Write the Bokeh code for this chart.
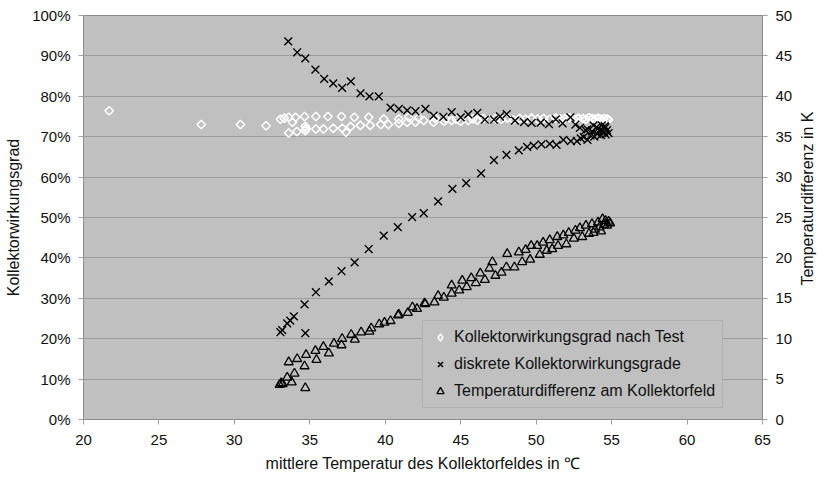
import math
from bokeh.plotting import figure
from bokeh.layouts import row
from bokeh.models import Range1d, LinearAxis, Legend, LegendItem, FixedTicker, PrintfTickFormatter, Label
from bokeh.embed import file_html
from bokeh.resources import INLINE

# ---------------- data ----------------
x_ticks = [20, 25, 30, 35, 40, 45, 50, 55, 60, 65]
y_ticks = [0, 10, 20, 30, 40, 50, 60, 70, 80, 90, 100]
k_ticks = [0, 5, 10, 15, 20, 25, 30, 35, 40, 45, 50]

# Kollektorwirkungsgrad nach Test (%)
test_x = [21.7, 27.8, 30.4, 32.1, 33.05, 33.3, 33.6, 33.6, 33.85, 34.05,
          34.15, 34.65, 34.7, 34.7, 34.75, 35.4, 35.4, 35.9, 36.2, 36.55,
          37.1, 37.15, 37.4, 37.7, 37.95, 38.35, 38.9, 39.0, 39.7, 39.9,
          40.2, 40.9, 40.9, 41.45, 41.55, 42.0, 42.2, 42.55, 43.2, 43.3,
          43.9, 44.0, 44.4, 44.7, 45.0, 45.5, 45.8, 46.1, 46.5, 46.9,
          47.3, 47.7, 48.1, 48.5, 48.9, 49.3, 49.7, 50.1, 50.5, 50.9,
          51.3, 51.6, 51.9, 52.2, 52.5, 52.8, 53.1, 53.3, 53.5, 53.7,
          53.9, 54.1, 54.3, 54.5, 54.7, 54.8]
test_y = [76.4, 73.0, 73.0, 72.7, 74.3, 74.6, 74.8, 70.9, 73.6, 74.8,
          71.3, 75.0, 72.6, 71.5, 72.0, 71.9, 75.0, 71.9, 75.0, 72.1,
          75.0, 72.1, 71.1, 72.5, 74.8, 72.8, 74.8, 72.8, 73.0, 74.4,
          73.0, 74.4, 73.3, 73.6, 74.8, 73.6, 74.7, 74.0, 73.6, 74.6,
          73.8, 74.5, 74.0, 74.3, 73.8, 74.0, 74.4, 74.1, 74.5, 74.2,
          74.5, 74.3, 74.6, 74.2, 74.5, 74.3, 74.6, 74.4, 74.5, 74.3,
          74.6, 74.4, 74.5, 74.7, 74.4, 74.6, 74.5, 74.3, 74.7, 74.5,
          74.4, 74.6, 74.3, 74.5, 74.4, 74.2]

# diskrete Kollektorwirkungsgrade (%)
disk_x = [33.57, 34.16, 34.7, 35.37, 35.95, 36.55, 37.14, 37.72, 38.36, 38.95,
          39.57, 40.35, 40.9, 41.45, 42.0, 42.66, 43.2, 43.85, 44.4, 45.0,
          45.5, 46.1, 46.6, 47.2, 47.6, 48.05, 48.6, 49.2, 49.7, 50.3,
          50.85, 51.3, 51.75, 52.27, 52.6, 52.9, 53.27, 53.8, 54.1, 54.4,
          54.6,
          33.05, 33.17, 33.5, 33.7, 33.94, 34.7, 34.65, 35.4, 36.26, 37.1,
          37.97, 38.9, 39.9, 40.83, 41.78, 42.55, 43.5, 44.45, 45.36, 46.35,
          47.2, 48.03, 48.85, 49.4, 49.84, 50.35, 50.9, 51.35, 51.8, 52.3,
          52.7, 52.95, 53.15, 53.4, 53.6, 53.85, 54.04, 54.2, 54.3, 54.5,
          54.6, 54.7, 54.55, 54.35, 54.8, 54.0, 53.7, 53.4]
disk_y = [93.6, 90.9, 89.4, 86.6, 84.3, 83.2, 82.1, 83.7, 80.7, 80.0,
          80.0, 77.2, 76.9, 76.5, 76.3, 76.9, 75.2, 74.9, 76.1, 74.8,
          75.5, 75.9, 74.2, 74.2, 75.0, 75.6, 74.0, 73.6, 73.4, 73.5,
          73.1, 74.3, 73.3, 74.8, 73.0, 72.2, 71.6, 72.8, 72.0, 71.4,
          72.3,
          21.6, 22.1, 23.8, 24.5, 25.5, 21.4, 28.5, 31.5, 34.2, 36.7,
          38.9, 42.2, 45.5, 47.6, 50.1, 51.1, 54.0, 57.1, 58.5, 60.9,
          64.2, 65.5, 66.6, 67.5, 67.8, 68.1, 68.2, 68.0, 69.2, 68.9,
          68.9, 69.6, 69.9, 69.2, 70.3, 70.0, 70.7, 71.5, 70.4, 71.1,
          70.6, 71.6, 72.6, 72.8, 70.9, 72.3, 71.3, 71.8]

# Temperaturdifferenz am Kollektorfeld (K)
dt_x = [33.0, 33.1, 33.2, 33.5, 33.8, 33.98, 34.7, 34.65, 33.6, 34.16,
        34.75, 35.44, 35.37, 35.9, 36.26, 36.6, 37.1, 37.14, 37.74, 37.98,
        38.4, 38.95, 39.07, 39.6, 39.95, 40.35, 40.85, 40.9, 41.5, 41.8,
        42.1, 42.6, 42.65, 43.26, 43.5, 43.88, 44.4, 44.4, 44.9, 45.1,
        45.4, 45.7, 46.0, 46.3, 46.6, 46.9, 47.1, 47.3, 47.7, 48.03,
        48.08, 48.56, 48.85, 49.07, 49.3, 49.6, 49.67, 50.07, 50.24, 50.46,
        50.7, 50.9, 51.06, 51.4, 51.45, 51.8, 52.0, 52.16, 52.5, 52.6,
        52.9, 53.05, 53.3, 53.5, 53.7, 53.9, 54.1, 54.2, 54.4, 54.5,
        54.6, 54.7, 54.8, 54.9, 54.3, 53.8]
dt_y = [4.3, 4.5, 4.4, 5.2, 4.6, 5.7, 3.9, 6.6, 7.1, 7.5,
        8.0, 7.4, 8.5, 9.0, 8.2, 9.4, 9.2, 10.0, 10.5, 9.9,
        10.8, 10.9, 11.3, 11.8, 12.0, 12.2, 12.9, 13.0, 13.2, 13.9,
        13.7, 14.4, 14.3, 14.5, 15.3, 15.1, 16.6, 15.6, 16.0, 17.2,
        16.4, 17.5, 16.9, 18.1, 17.3, 18.7, 19.5, 17.8, 18.2, 18.85,
        20.5, 18.85, 20.7, 19.5, 21.0, 19.8, 21.5, 21.5, 20.4, 21.9,
        20.9, 22.2, 21.1, 22.6, 21.5, 22.8, 21.7, 23.1, 22.4, 23.4,
        23.7, 22.6, 24.0, 23.0, 24.2, 23.5, 24.4, 23.8, 24.8, 24.1,
        24.6, 24.0, 24.5, 24.3, 23.3, 23.1]

labels = ["Kollektorwirkungsgrad nach Test",
          "diskrete Kollektorwirkungsgrade",
          "Temperaturdifferenz am Kollektorfeld"]
x_title = "mittlere Temperatur des Kollektorfeldes in ℃"
y_title = "Kollektorwirkungsgrad"
k_title = "Temperaturdifferenz in K"

FONT = "Liberation Sans"
W_TITLE = 22   # narrow strip holding the right axis title

p = figure(width=818 - W_TITLE, height=479, output_backend="svg", toolbar_location=None,
           x_range=Range1d(20, 65), y_range=Range1d(0, 100),
           min_border_left=83, min_border_right=818 - W_TITLE - 762, min_border_top=15,
           min_border_bottom=60,
           background_fill_color="#c0c0c0", border_fill_color="white")
p.extra_y_ranges = {"k": Range1d(0, 50)}

p.outline_line_color = "#8c8c8c"
p.xgrid.visible = False
p.ygrid.grid_line_color = "#9c9c9c"
p.ygrid.grid_line_width = 1
p.ygrid.ticker = FixedTicker(ticks=y_ticks)

p.xaxis.ticker = FixedTicker(ticks=x_ticks)
p.yaxis.ticker = FixedTicker(ticks=y_ticks)
p.yaxis.formatter = PrintfTickFormatter(format="%d%%")
p.xaxis.axis_label = x_title
p.yaxis.axis_label = y_title

right = LinearAxis(y_range_name="k", ticker=FixedTicker(ticks=k_ticks))
p.add_layout(right, "right")

for ax in p.xaxis + p.yaxis + [right]:
    ax.axis_line_color = "#8c8c8c"
    ax.major_tick_line_color = "#a0a0a0"
    ax.major_tick_out = 5
    ax.major_tick_in = 0
    ax.minor_tick_line_color = None
    ax.major_label_text_font = FONT
    ax.major_label_text_font_size = "15px"
    ax.major_label_text_color = "#111111"
    ax.major_label_standoff = 8
    ax.axis_label_text_font = FONT
    ax.axis_label_text_font_size = "16px"
    ax.axis_label_text_font_style = "normal"
    ax.axis_label_text_color = "#111111"
    ax.axis_label_standoff = 7
p.xaxis.major_label_standoff = 10

r_test = p.scatter(test_x, test_y, marker="square", size=6, angle=math.pi / 4,
                   fill_color=None, line_color="white", line_width=1.5)
r_disk = p.scatter(disk_x, disk_y, marker="x", size=11, line_color="black", line_width=1.4)
r_dt = p.scatter(dt_x, dt_y, marker="triangle", size=9, y_range_name="k",
                 fill_color=None, line_color="black", line_width=1.3)

# legend symbol only (NaN point is never drawn in the plot)
r_leg_dia = p.scatter([float("nan")], [float("nan")], marker="diamond", size=9,
                      fill_color=None, line_color="white", line_width=1.5)

legend = Legend(items=[LegendItem(label=labels[0], renderers=[r_leg_dia]),
                       LegendItem(label=labels[1], renderers=[r_disk]),
                       LegendItem(label=labels[2], renderers=[r_dt])],
                location=(339, 11))
legend.background_fill_color = "#c0c0c0"
legend.background_fill_alpha = 1
legend.border_line_color = "#a0a0a0"
legend.label_text_font = FONT
legend.label_text_font_size = "16px"
legend.label_text_color = "#111111"
legend.glyph_width = 20
legend.glyph_height = 18
legend.label_height = 18
legend.spacing = 9
legend.padding = 7
legend.label_standoff = 4
legend.margin = 0
p.add_layout(legend)

# narrow strip with the right axis title, reading bottom to top
t = figure(width=W_TITLE, height=479, output_backend="svg", toolbar_location=None,
           x_range=Range1d(0, 1), y_range=Range1d(0, 1),
           x_axis_location=None, y_axis_location=None,
           min_border_left=0, min_border_right=0, min_border_top=0, min_border_bottom=0,
           background_fill_color="white", border_fill_color="white")
t.outline_line_color = None
t.xgrid.visible = False
t.ygrid.visible = False
t.add_layout(Label(x=0.5, y=(479 - 217) / 479, text=k_title, angle=math.pi / 2,
                   text_align="center", text_baseline="middle",
                   text_font=FONT, text_font_size="16px", text_color="#111111"))

layout = row(p, t, spacing=0)
open("out.html", "w").write(file_html(layout, INLINE))
